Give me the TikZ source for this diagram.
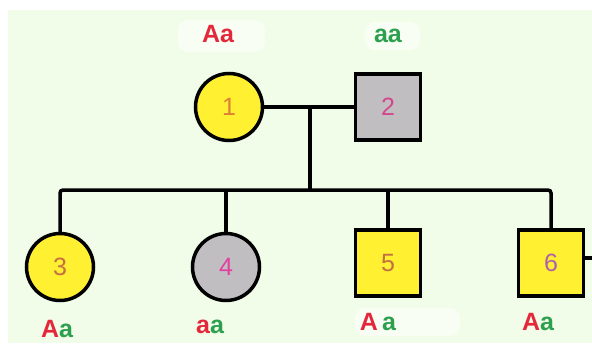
\documentclass[tikz,border=0pt]{standalone}
\usepackage{fontspec}
\setmainfont{Liberation Sans}
\usetikzlibrary{calc}
\definecolor{bggreen}{RGB}{241,253,232}
\definecolor{fyellow}{RGB}{255,240,50}
\definecolor{fgrey}{RGB}{192,190,192}
\definecolor{lred}{RGB}{228,40,60}
\definecolor{lgreen}{RGB}{45,160,80}
\definecolor{nOrange}{RGB}{222,128,52}
\definecolor{nPink}{RGB}{214,70,140}
\definecolor{nBrown}{RGB}{196,112,64}
\definecolor{nMag}{RGB}{226,64,160}
\definecolor{nPurple}{RGB}{176,96,168}
\begin{document}
\begin{tikzpicture}[x=1pt,y=-1pt,
  female/.style={circle,draw=black,line width=3.5pt,minimum size=67pt,inner sep=0pt,font=\fontsize{25}{25}\selectfont},
  male/.style={rectangle,draw=black,line width=3.5pt,minimum width=65pt,minimum height=66pt,inner sep=0pt,font=\fontsize{25}{25}\selectfont},
  link/.style={draw=black,line width=3.5pt},
  geno/.style={anchor=base,inner sep=0pt,font=\fontsize{25}{25}\selectfont\bfseries},
  patch/.style={fill=white,draw=none,rounded corners=10pt,opacity=0.6}]
\useasboundingbox (0,0) rectangle (592,343);
\fill[white] (0,0) rectangle (592,343);
\fill[bggreen] (8,10) rectangle (592,343);
% white patches behind genotype labels
\fill[patch] (178,20) rectangle (265,52);
\fill[patch] (365,22) rectangle (420,50);
\fill[patch] (355,308) rectangle (460,336);
% individuals
\node[female,fill=fyellow,text=nOrange] (p1) at (229,107) {1};
\node[male,fill=fgrey,text=nPink] (p2) at (388,107) {2};
\node[female,fill=fyellow,text=nBrown] (c3) at (60,267) {3};
\node[female,fill=fgrey,text=nMag] (c4) at (226,267) {4};
\node[male,fill=fyellow,text=nBrown] (c5) at (388,263) {5};
\node[male,fill=fyellow,text=nPurple] (c6) at (551,263) {6};
% genotype labels
\node[geno,text=lred] (g1) at (218,42) {Aa};
\node[geno,text=lgreen] (g2) at (388,42) {aa};
\node[geno] (g3) at (57,337) {\textcolor{lred}{A}\textcolor{lgreen}{a}};
\node[geno] (g4) at (210,333) {\textcolor{lred}{a}\textcolor{lgreen}{a}};
\node[geno] (g5) at (378,330) {\textcolor{lred}{A}\,\textcolor{lgreen}{a}};
\node[geno] (g6) at (538,330) {\textcolor{lred}{A}\textcolor{lgreen}{a}};
% connectors
\coordinate (m) at (310,107);
\coordinate (sib) at (310,190);
\coordinate (out) at (592,258);
\draw[link] (p1.east) -- (p2.west);
\draw[link] (m) -- (sib);
\draw[link,rounded corners=3pt] (c3.north) |- (c6.north |- sib) -- (c6.north);
\draw[link] (c4.north) -- (c4.north |- sib);
\draw[link] (c5.north) -- (c5.north |- sib);
\draw[link] (c6.east |- out) -- (out);
\end{tikzpicture}
\end{document}
